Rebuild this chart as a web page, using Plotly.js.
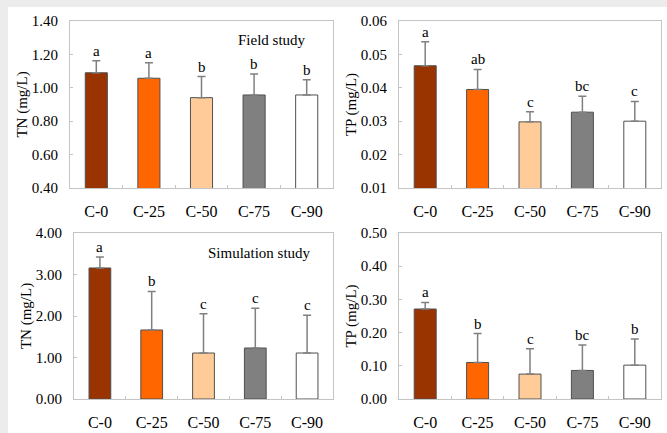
<!DOCTYPE html>
<html>
<head>
<meta charset="utf-8">
<script src="https://cdn.plot.ly/plotly-3.0.1.min.js"></script>
<style>
html,body{margin:0;padding:0;background:#ffffff;}
#chart{width:667px;height:433px;}
</style>
</head>
<body>
<div id="chart"></div>
<script>
const categories = ['C-0', 'C-25', 'C-50', 'C-75', 'C-90'];
const barColors = ['#993300', '#FF6600', '#FFCC99', '#808080', '#FFFFFF'];

const fieldTN = [1.09, 1.057, 0.941, 0.957, 0.957];
const fieldTNerr = [0.072, 0.093, 0.126, 0.126, 0.091];
const fieldTNletters = ['a', 'a', 'b', 'b', 'b'];

const fieldTP = [0.0466, 0.0395, 0.0298, 0.0327, 0.0300];
const fieldTPerr = [0.0072, 0.0060, 0.0030, 0.0048, 0.0059];
const fieldTPletters = ['a', 'ab', 'c', 'bc', 'c'];

const simTN = [3.157, 1.663, 1.108, 1.229, 1.108];
const simTNerr = [0.265, 0.93, 0.948, 0.956, 0.908];
const simTNletters = ['a', 'b', 'c', 'c', 'c'];

const simTP = [0.271, 0.110, 0.075, 0.086, 0.102];
const simTPerr = [0.020, 0.087, 0.076, 0.077, 0.079];
const simTPletters = ['a', 'b', 'c', 'bc', 'b'];

const W = 667, H = 433;
const px = (a, b) => [a / W, b / W];
const py = (top, bottom) => [1 - bottom / H, 1 - top / H];

const FONT = 'Liberation Serif';
const INK = '#000000';
const frame = '#c4c4c4';

const panels = [
  {vals: fieldTN, err: fieldTNerr, letters: fieldTNletters, range: [0.4, 1.4], dtick: 0.2, title: 'TN (mg/L)', dx: px(70, 333), dy: py(21, 188)},
  {vals: fieldTP, err: fieldTPerr, letters: fieldTPletters, range: [0.01, 0.06], dtick: 0.01, title: 'TP (mg/L)', dx: px(399, 661), dy: py(21, 188)},
  {vals: simTN, err: simTNerr, letters: simTNletters, range: [0, 4], dtick: 1, title: 'TN (mg/L)', dx: px(74, 333), dy: py(233, 399)},
  {vals: simTP, err: simTPerr, letters: simTPletters, range: [0, 0.5], dtick: 0.1, title: 'TP (mg/L)', dx: px(399, 661), dy: py(233, 399)}
];

const traces = [];
const layout = {
  width: W, height: H,
  margin: {l: 0, r: 0, t: 0, b: 0},
  paper_bgcolor: '#ffffff',
  plot_bgcolor: '#ffffff',
  showlegend: false,
  bargap: 0.58,
  font: {family: FONT, size: 14, color: INK},
  annotations: [],
  shapes: [
    {type: 'rect', xref: 'paper', yref: 'paper', x0: 0, x1: 1, y0: 1 - 7 / H, y1: 1, fillcolor: '#ececec', line: {width: 0}, layer: 'below'},
    {type: 'rect', xref: 'paper', yref: 'paper', x0: 0, x1: 8 / W, y0: 0, y1: 1, fillcolor: '#ececec', line: {width: 0}, layer: 'below'}
  ]
};

panels.forEach((p, i) => {
  const n = i === 0 ? '' : String(i + 1);
  traces.push({
    type: 'bar',
    x: categories,
    y: p.vals,
    xaxis: 'x' + n,
    yaxis: 'y' + n,
    marker: {color: barColors, line: {color: '#505050', width: 1}},
    error_y: {type: 'data', array: p.err, arrayminus: p.err.map(() => 0), symmetric: false, color: '#808080', thickness: 1.5, width: 4},
    hoverinfo: 'x+y'
  });
  layout['xaxis' + n] = {
    domain: p.dx,
    anchor: 'y' + n,
    type: 'category',
    showline: true, linecolor: frame, linewidth: 1, mirror: true,
    ticks: 'inside', tickson: 'boundaries', ticklen: 3, tickcolor: frame,
    ticklabelstandoff: 9,
    tickfont: {family: FONT, size: 16, color: INK},
    showgrid: false, zeroline: false, fixedrange: true
  };
  layout['yaxis' + n] = {
    domain: p.dy,
    anchor: 'x' + n,
    range: p.range,
    dtick: p.dtick,
    tick0: p.range[0],
    tickformat: '.2f',
    showline: true, linecolor: frame, linewidth: 1, mirror: true,
    ticks: 'inside', ticklen: 3, tickcolor: frame,
    ticklabelstandoff: 8,
    tickfont: {family: FONT, size: 15, color: INK},
    showgrid: false, zeroline: false, fixedrange: true,
    title: {text: p.title, font: {family: FONT, size: 15, color: INK}, standoff: 0}
  };
  p.letters.forEach((l, k) => {
    layout.annotations.push({
      xref: 'x' + n, yref: 'y' + n,
      x: categories[k], y: p.vals[k] + p.err[k],
      text: l, showarrow: false,
      yanchor: 'bottom', yshift: 0,
      font: {family: FONT, size: 15, color: INK}
    });
  });
});

layout.annotations.push({
  xref: 'paper', yref: 'paper', x: 308 / W, y: 1 - 40 / H,
  xanchor: 'right', yanchor: 'middle', showarrow: false,
  text: 'Field study', font: {family: FONT, size: 15, color: INK}
});
layout.annotations.push({
  xref: 'paper', yref: 'paper', x: 313 / W, y: 1 - 253 / H,
  xanchor: 'right', yanchor: 'middle', showarrow: false,
  text: 'Simulation study', font: {family: FONT, size: 15, color: INK}
});

Plotly.newPlot('chart', traces, layout, {displayModeBar: false, staticPlot: true});
</script>
</body>
</html>
